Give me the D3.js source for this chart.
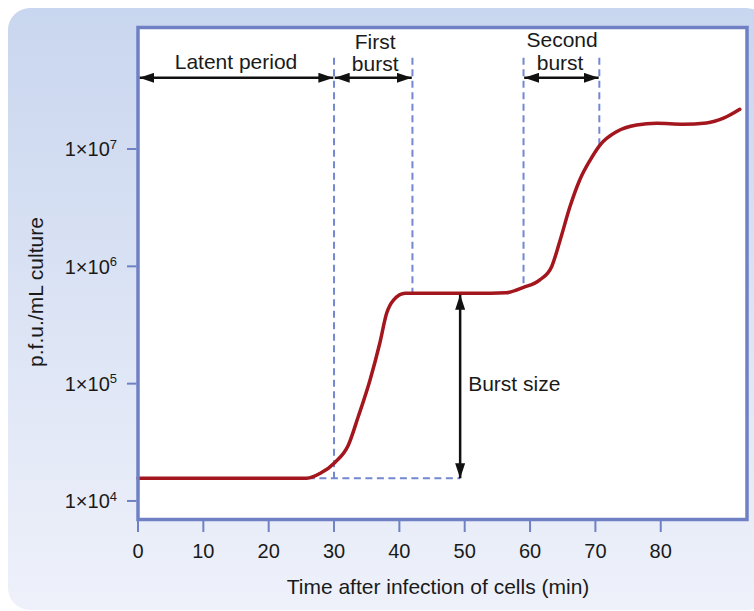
<!DOCTYPE html>
<html lang="en">
<head>
<meta charset="utf-8">
<title>One-step growth curve</title>
<script src="https://cdn.jsdelivr.net/npm/d3@7"></script>
<style>
  body { margin: 0; background: #fff; }
  svg text { font-family: "Liberation Sans", Arial, sans-serif; fill: #1a1a1a; }
</style>
</head>
<body>
<script>
// curve: time (min) and p.f.u./mL
var times  = [0, 10, 20, 25.8, 27.9, 30.1, 32.2, 33.7, 35.5, 37.0, 38.05, 39.1, 40.9, 45, 50, 54, 56.3, 59.0, 61.5, 63.3, 64.6, 66.1, 67.6, 69.2, 70.7, 73.3, 76.3, 79.4, 83.4, 87.0, 89.6, 92.1];
var pfu    = [1.56e4, 1.56e4, 1.56e4, 1.56e4, 1.72e4, 2.12e4, 3.0e4, 5.22e4, 1.07e5, 2.21e5, 3.98e5, 5.16e5, 5.9e5, 5.9e5, 5.9e5, 5.9e5, 5.95e5, 6.62e5, 7.66e5, 9.93e5, 1.67e6, 3.22e6, 5.45e6, 8.05e6, 1.08e7, 1.41e7, 1.60e7, 1.66e7, 1.63e7, 1.67e7, 1.83e7, 2.18e7];

var xTicks = [0, 10, 20, 30, 40, 50, 60, 70, 80];
var yTicks = [1e4, 1e5, 1e6, 1e7];
var yExp   = ["4", "5", "6", "7"];

// annotation values
var latentEnd = 30, firstEnd = 42, secondStart = 59, secondEnd = 70.6, burstTime = 49.3;
var baseLevel = 1.56e4, plateau = 5.9e5, secondLevel = 6.6e5, secondTop = 1.08e7;
var guideTop = 6.0e7, arrowLevel = 4.05e7;

var W = 754, H = 611;
var margin = {top: 27.5, right: 7, bottom: 91.5, left: 138},
    width = W - margin.left - margin.right,
    height = H - margin.top - margin.bottom;

var svg = d3.select("body").append("svg")
    .attr("width", W).attr("height", H);

var defs = svg.append("defs");
var grad = defs.append("linearGradient").attr("id", "bg")
    .attr("x1", 0).attr("y1", 0).attr("x2", 0).attr("y2", 1);
grad.append("stop").attr("offset", "0%").attr("stop-color", "#c9d6ef");
grad.append("stop").attr("offset", "100%").attr("stop-color", "#eef1fa");

// arrow head
defs.append("marker").attr("id", "head")
    .attr("viewBox", "0 0 15 10").attr("refX", 15).attr("refY", 5)
    .attr("markerWidth", 15).attr("markerHeight", 10)
    .attr("markerUnits", "userSpaceOnUse")
    .attr("orient", "auto-start-reverse")
  .append("path").attr("d", "M0,0 L15,5 L0,10 Z").attr("fill", "#111");

// background panel
svg.append("rect")
    .attr("x", 8).attr("y", 8).attr("width", 760).attr("height", 602)
    .attr("rx", 22).attr("fill", "url(#bg)");

var g = svg.append("g").attr("transform", "translate(" + margin.left + "," + margin.top + ")");

var x = d3.scaleLinear().domain([0, 93.2]).range([0, width]);
var y = d3.scaleLog().domain([6950, 1.086e8]).range([height, 0]);

// plot area
g.append("rect").attr("width", width).attr("height", height).attr("fill", "#fff");

var blue = "#6f81c4";

// dashed guides
var dash = "7,4.5";
var guides = [
  [latentEnd, baseLevel], [firstEnd, plateau], [secondStart, secondLevel], [secondEnd, secondTop]
];
g.selectAll(".guide").data(guides).enter().append("line")
    .attr("class", "guide")
    .attr("x1", function(d) { return x(d[0]); })
    .attr("x2", function(d) { return x(d[0]); })
    .attr("y1", y(guideTop))
    .attr("y2", function(d) { return y(d[1]); })
    .attr("stroke", "#7388d0").attr("stroke-width", 2).attr("stroke-dasharray", dash);

g.append("line")
    .attr("x1", x(26)).attr("x2", x(burstTime))
    .attr("y1", y(baseLevel)).attr("y2", y(baseLevel))
    .attr("stroke", "#7388d0").attr("stroke-width", 2).attr("stroke-dasharray", dash);

// the curve
var pts = times.map(function(t, i) { return [t, pfu[i]]; });
var line = d3.line()
    .x(function(d) { return x(d[0]); })
    .y(function(d) { return y(d[1]); })
    .curve(d3.curveMonotoneX);
g.append("path").datum(pts)
    .attr("d", line)
    .attr("fill", "none")
    .attr("stroke", "#a3161d")
    .attr("stroke-width", 3.5)
    .attr("stroke-linecap", "round");

// double arrows
var arrows = [
  [0.2, latentEnd - 0.1, arrowLevel, arrowLevel],
  [latentEnd + 0.1, firstEnd - 0.1, arrowLevel, arrowLevel],
  [secondStart + 0.1, secondEnd - 0.1, arrowLevel, arrowLevel]
];
g.selectAll(".arrow").data(arrows).enter().append("line")
    .attr("class", "arrow")
    .attr("x1", function(d) { return x(d[0]); })
    .attr("x2", function(d) { return x(d[1]); })
    .attr("y1", function(d) { return y(d[2]); })
    .attr("y2", function(d) { return y(d[3]); })
    .attr("stroke", "#111").attr("stroke-width", 2.5)
    .attr("marker-start", "url(#head)").attr("marker-end", "url(#head)");

g.append("line")
    .attr("x1", x(burstTime)).attr("x2", x(burstTime))
    .attr("y1", y(plateau) + 1.5).attr("y2", y(baseLevel))
    .attr("stroke", "#111").attr("stroke-width", 2.5)
    .attr("marker-start", "url(#head)").attr("marker-end", "url(#head)");

// labels
g.append("text").attr("x", x(15)).attr("y", y(arrowLevel) - 8.5)
    .attr("text-anchor", "middle").style("font-size", "21px").text("Latent period");
g.append("text").attr("x", x(36.3)).attr("y", y(arrowLevel) - 29)
    .attr("text-anchor", "middle").style("font-size", "21px").text("First");
g.append("text").attr("x", x(36.3)).attr("y", y(arrowLevel) - 6.5)
    .attr("text-anchor", "middle").style("font-size", "21px").text("burst");
g.append("text").attr("x", x(64.9)).attr("y", y(arrowLevel) - 31)
    .attr("text-anchor", "middle").style("font-size", "21px").text("Second");
g.append("text").attr("x", x(64.6)).attr("y", y(arrowLevel) - 7.5)
    .attr("text-anchor", "middle").style("font-size", "21px").text("burst");
g.append("text").attr("x", x(burstTime) + 8).attr("y", y(1e5) + 7)
    .attr("text-anchor", "start").style("font-size", "21px").text("Burst size");

// frame
g.append("rect").attr("width", width).attr("height", height)
    .attr("fill", "none").attr("stroke", blue).attr("stroke-width", 3.5);

// x axis
var xAxis = g.append("g").attr("transform", "translate(0," + height + ")");
xAxis.selectAll("line").data(xTicks).enter().append("line")
    .attr("x1", function(d) { return x(d); }).attr("x2", function(d) { return x(d); })
    .attr("y1", 1.5).attr("y2", 12.5)
    .attr("stroke", blue).attr("stroke-width", 2);
xAxis.selectAll("text").data(xTicks).enter().append("text")
    .attr("x", function(d) { return x(d); }).attr("y", 38.5)
    .attr("text-anchor", "middle").style("font-size", "20px")
    .text(function(d) { return d; });

// y axis
var yAxis = g.append("g");
yAxis.selectAll("line").data(yTicks).enter().append("line")
    .attr("x1", -11).attr("x2", -1.5)
    .attr("y1", function(d) { return y(d); }).attr("y2", function(d) { return y(d); })
    .attr("stroke", blue).attr("stroke-width", 2);
var yl = yAxis.selectAll("text").data(yTicks).enter().append("text")
    .attr("x", -21).attr("y", function(d) { return y(d) + 7.3; })
    .attr("text-anchor", "end").style("font-size", "20px");
yl.append("tspan").text("1\u00d710");
yl.append("tspan").attr("dy", -7.5).style("font-size", "13px")
    .text(function(d, i) { return yExp[i]; });

// axis titles
svg.append("text")
    .attr("x", 438).attr("y", 594)
    .attr("text-anchor", "middle").style("font-size", "21px")
    .text("Time after infection of cells (min)");
svg.append("text")
    .attr("transform", "translate(43,292) rotate(-90)")
    .attr("text-anchor", "middle").style("font-size", "21px")
    .text("p.f.u./mL culture");
</script>
</body>
</html>
